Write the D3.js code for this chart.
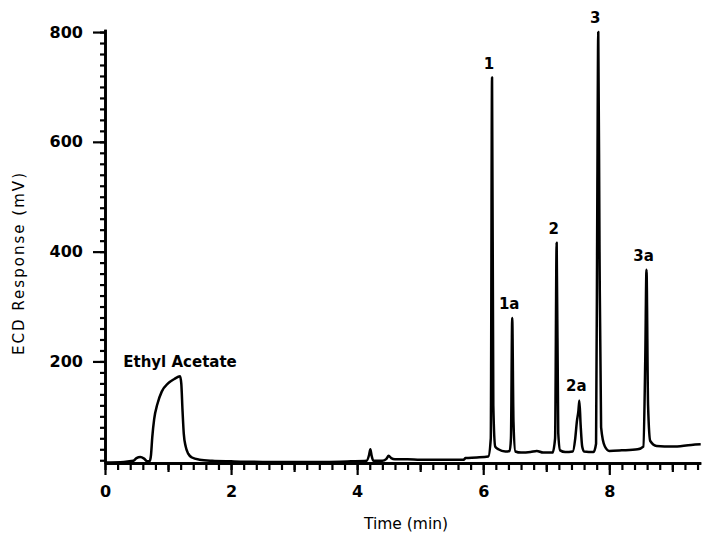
<!DOCTYPE html>
<html>
<head>
<meta charset="utf-8">
<script src="https://cdn.jsdelivr.net/npm/d3@7"></script>
<style>
    body { margin: 0; background: #fff; }
    text { font-family: "DejaVu Sans", sans-serif; fill: #000; }
</style>
</head>
<body>
<script>
//chromatogram data (time in min, ECD response in mV)
var times = [0.00, 0.30, 0.45, 0.50, 0.56, 0.62, 0.67, 0.71, 0.73, 0.75, 0.78, 0.83, 0.90, 1.00, 1.10, 1.19,
    1.21, 1.23, 1.25, 1.28, 1.32, 1.38, 1.50, 1.70, 2.00, 2.50, 3.00, 3.50, 3.90, 4.15, 4.19, 4.21, 4.23, 4.26,
    4.40, 4.46, 4.50, 4.54, 4.60, 4.80, 5.00, 5.40, 5.69, 5.72, 5.90, 6.08, 6.12, 6.14, 6.16, 6.19, 6.24, 6.35,
    6.42, 6.44, 6.46, 6.48, 6.51, 6.60, 6.75, 6.85, 6.95, 7.10, 7.14, 7.165, 7.19, 7.22, 7.30, 7.42, 7.46, 7.485,
    7.51, 7.525, 7.545, 7.57, 7.60, 7.75, 7.79, 7.81, 7.825, 7.845, 7.87, 7.93, 8.00, 8.20, 8.45, 8.54, 8.57,
    8.59, 8.615, 8.65, 8.75, 9.00, 9.30, 9.45];
var response = [16, 17, 19, 24, 26, 23, 18, 19, 30, 62, 95, 122, 145, 160, 168, 173,
    160, 110, 68, 45, 32, 25, 21, 19, 18, 17, 17, 17, 18, 19, 30, 40, 28, 19,
    19, 22, 28, 24, 22, 22, 21, 21, 21, 24, 25, 27, 60, 717, 120, 45, 40, 36,
    37, 60, 279, 90, 36, 34, 35, 37, 34, 34, 60, 416, 70, 38, 35, 36, 60, 90,
    110, 129, 85, 45, 36, 35, 50, 500, 800, 400, 80, 45, 37, 38, 40, 45, 200,
    367, 120, 55, 46, 45, 48, 49];

//peak annotations
var peakNames = ["Ethyl Acetate", "1", "1a", "2", "2a", "3", "3a"];
var peakTimes = [1.19, 6.14, 6.46, 7.165, 7.525, 7.825, 8.59];
var peakHeights = [173, 717, 279, 416, 129, 800, 367];

//axis ticks
var xLabelTicks = [0, 2, 4, 6, 8];
var xMidTicks = [1, 3, 5, 7, 9];
var xMinorTicks = d3.range(0, 9.41, 0.2);
var yLabelTicks = [200, 400, 600, 800];
var yMinorTicks = d3.range(20, 801, 20);

window.onload = drawChart();

function drawChart(){

    var width = 703,
        height = 533;

    var svg = d3.select("body")
        .append("svg")
        .attr("width", width)
        .attr("height", height);

    //scales fitted to the scanned frame
    var x = d3.scaleLinear()
        .domain([0, 9.45])
        .range([105, 700.7]);

    var y = d3.scaleLinear()
        .domain([15, 805])
        .range([463, 29.3]);

    //x axis: minor, mid and labelled ticks
    var xAxisG = svg.append("g").attr("transform", "translate(0," + y(15) + ")");
    xAxisG.append("g")
        .call(d3.axisBottom(x).tickValues(xMinorTicks).tickSize(7).tickSizeOuter(0).tickFormat(""));
    xAxisG.append("g")
        .call(d3.axisBottom(x).tickValues(xMidTicks).tickSize(9).tickSizeOuter(0).tickFormat(""));
    xAxisG.append("g")
        .attr("class", "labelled")
        .call(d3.axisBottom(x).tickValues(xLabelTicks).tickSize(12).tickSizeOuter(0).tickPadding(11).tickFormat(d3.format("d")));

    //y axis
    var yAxisG = svg.append("g").attr("transform", "translate(" + x(0) + ",0)");
    yAxisG.append("g")
        .call(d3.axisLeft(y).tickValues(yMinorTicks).tickSize(5).tickSizeOuter(0).tickFormat(""));
    yAxisG.append("g")
        .attr("class", "labelled")
        .call(d3.axisLeft(y).tickValues(yLabelTicks).tickSize(12).tickSizeOuter(0).tickPadding(10).tickFormat(d3.format("d")));

    //style the axes
    svg.selectAll(".domain").attr("stroke", "#000").attr("stroke-width", 2.6);
    svg.selectAll(".tick line").attr("stroke", "#000").attr("stroke-width", 2.2);
    svg.selectAll(".labelled .tick text")
        .style("font-family", "'DejaVu Sans', sans-serif")
        .style("font-size", "16px")
        .style("font-weight", "bold")
        .attr("fill", "#000");

    //chromatogram trace
    var line = d3.line()
        .x(function(d){ return x(times[d]); })
        .y(function(d){ return y(response[d]); })
        .curve(d3.curveMonotoneX);

    svg.append("path")
        .datum(d3.range(times.length))
        .attr("class", "trace")
        .attr("fill", "none")
        .attr("stroke", "#000")
        .attr("stroke-width", 2.5)
        .attr("stroke-linejoin", "round")
        .attr("d", line);

    //peak labels
    svg.selectAll(".peakLabel")
        .data(peakNames)
        .enter()
        .append("text")
        .attr("class", "peakLabel")
        .attr("x", function(d, i){ return x(peakTimes[i]) - (i == 0 ? 0 : 3); })
        .attr("y", function(d, i){ return y(peakHeights[i]) - 9; })
        .attr("text-anchor", "middle")
        .style("font-size", "15px")
        .style("font-weight", "bold")
        .text(function(d){ return d; });

    //axis titles
    svg.append("text")
        .attr("x", 406)
        .attr("y", 529)
        .attr("text-anchor", "middle")
        .style("font-size", "15.5px")
        .text("Time (min)");

    svg.append("text")
        .attr("transform", "translate(24,264) rotate(-90)")
        .attr("text-anchor", "middle")
        .style("font-size", "15px")
        .attr("textLength", 182)
        .attr("lengthAdjust", "spacing")
        .text("ECD Response (mV)");
};
</script>
</body>
</html>
